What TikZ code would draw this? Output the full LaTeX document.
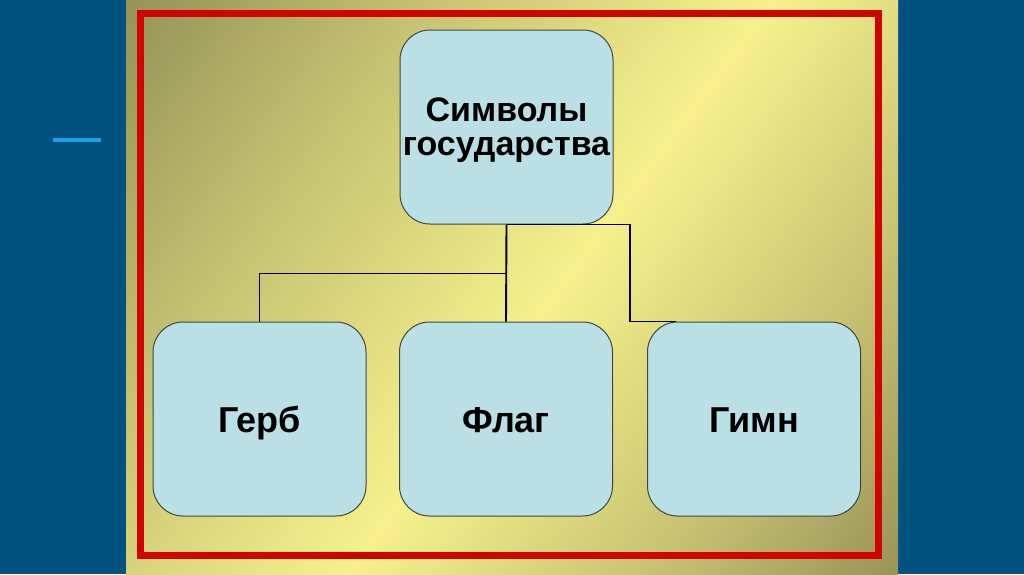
\documentclass[tikz,border=0pt]{standalone}
\usepackage{fontspec}
\setmainfont{Liberation Sans}
\usetikzlibrary{calc}
\definecolor{bgblue}{RGB}{2,82,127}
\definecolor{lineblue}{RGB}{30,158,228}
\definecolor{goldA}{RGB}{146,144,86}
\definecolor{goldB}{RGB}{246,241,140}
\definecolor{goldC}{RGB}{142,136,82}
\definecolor{frame}{RGB}{208,4,4}
\definecolor{boxfill}{RGB}{186,223,229}
\definecolor{boxline}{RGB}{60,72,66}
\pgfdeclarehorizontalshading{goldsh}{100bp}{color(0bp)=(goldA); color(25bp)=(goldA); color(37bp)=(goldA!50!goldB); color(51bp)=(goldB); color(63bp)=(goldC!45!goldB); color(75bp)=(goldC); color(100bp)=(goldC)}
\tikzset{
  symbox/.style={draw=boxline, line width=1pt, fill=boxfill, rounded corners=30pt,
    minimum width=213pt, minimum height=194pt, inner sep=0pt, align=center,
    text=black},
  bigtext/.style={font=\bfseries\fontsize{36}{40}\selectfont, text height=26pt, text depth=0pt},
  link/.style={draw=black, line width=1.9pt},
}
\begin{document}
\begin{tikzpicture}[x=1pt,y=-1pt]
\useasboundingbox (0,0) rectangle (1024,574);
\fill[bgblue] (0,0) rectangle (1024,574);
\begin{scope}
  \clip (126,0) rectangle (898,574);
  \begin{scope}[transform canvas={rotate around={-36.6:(512,287)}}]
    \shade[shading=goldsh] (20,-210) rectangle (1040,784);
  \end{scope}
\end{scope}
\draw[frame, line width=7pt] (140.5,13) rectangle (878,555);
\draw[lineblue, line width=4pt] (53,140) -- (101,140);

\node[symbox, font=\bfseries\fontsize{34}{34}\selectfont, text depth=0pt] (top) at (506.5,127) {Символы\\государства};
\node[symbox, bigtext] (gerb) at (259.5,419) {Герб};
\node[symbox, bigtext] (flag) at (506,419) {Флаг};
\node[symbox, bigtext] (gimn) at (754,419) {Гимн};

\draw[link] (top.south) -- (flag.north);
\draw[link] (gerb.north) -- ++(0,-48) -| (top.south);
\draw[link] (top.south) -- ++(123.5,0) |- ($(gimn.north west)+(29,0)$);
\end{tikzpicture}
\end{document}
